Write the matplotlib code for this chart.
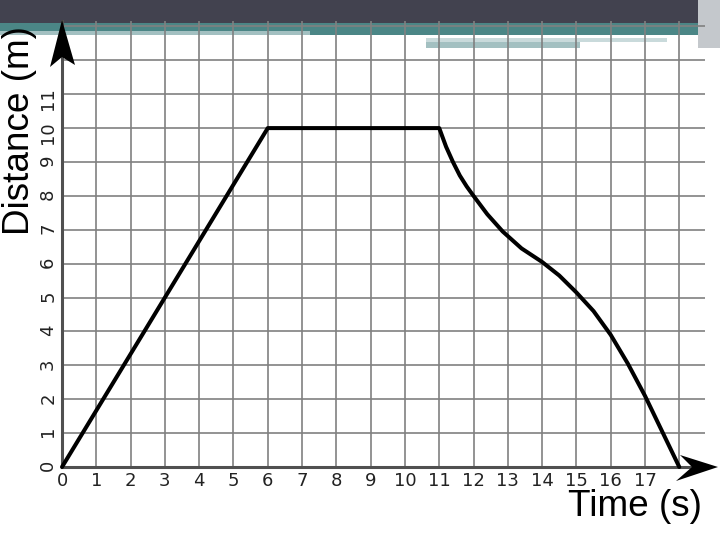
import matplotlib
matplotlib.use("Agg")
import matplotlib.pyplot as plt
from matplotlib.patches import Rectangle, Polygon

plt.rcParams['font.family'] = ['Liberation Sans', 'DejaVu Sans']

# data
time_s = [0, 6, 11, 11.2, 11.4, 11.6, 11.8, 12, 12.4, 12.85, 13.4, 14, 14.5,
          15, 15.5, 16, 16.5, 17, 17.5, 18]
dist_m = [0, 10, 10, 9.45, 9.0, 8.6, 8.28, 8.0, 7.46, 6.95, 6.45, 6.05, 5.65,
          5.15, 4.6, 3.9, 3.05, 2.1, 1.05, 0]
x_ticks = list(range(0, 19))
x_labels = [str(i) for i in range(0, 18)] + ['']
y_ticks = list(range(0, 14))
y_labels = [str(i) for i in range(0, 12)] + ['', '']

W, H = 720, 540
fig = plt.figure(figsize=(7.2, 5.4), dpi=100)

def px_rect(x0, y0, x1, y1, color, z=-2):
    r = Rectangle((x0 / W, 1 - y1 / H), (x1 - x0) / W, (y1 - y0) / H,
                  transform=fig.transFigure, color=color, zorder=z, lw=0)
    fig.add_artist(r)

def px_poly(pts, color, z=5):
    p = Polygon([(x / W, 1 - y / H) for x, y in pts], closed=True,
                transform=fig.transFigure, color=color, zorder=z, lw=0)
    fig.add_artist(p)

# slide decoration
px_rect(0, 23, 700, 35, '#4b8686')
px_rect(0, 31, 310, 35, '#a3c0c1', z=-1.5)
px_rect(426, 38, 667, 42, '#c9dadb')
px_rect(426, 42, 580, 48, '#a3c0c1')
px_rect(698, 0, 720, 48, '#c4c8cc', z=-1.8)
px_rect(0, 0, 698, 23, '#42424f', z=-1.9)

ax = fig.add_axes([62 / W, (H - 467) / H, (705 - 62) / W, (467 - 21) / H])
ax.patch.set_alpha(0)
ax.plot(time_s, dist_m, color='black', lw=2.9, solid_joinstyle='round',
        solid_capstyle='round', zorder=4, clip_on=False)

ax.set_xlim(0, 18.75)
ax.set_ylim(0, 13.16)
ax.set_xticks(x_ticks)
ax.set_xticklabels(x_labels, family='DejaVu Sans')
ax.set_yticks(y_ticks)
ax.set_yticklabels(y_labels, family='DejaVu Sans')
ax.tick_params(axis='both', length=0, labelsize=13, colors='#222222')
ax.tick_params(axis='x', pad=3.5)
ax.tick_params(axis='y', pad=3.5, labelrotation=90)
ax.grid(True, color='#808080', lw=1.2)
ax.set_axisbelow(True)

for s in ['top', 'right']:
    ax.spines[s].set_visible(False)
for s in ['left', 'bottom']:
    ax.spines[s].set_color('#505050')
    ax.spines[s].set_linewidth(2.2)
    ax.spines[s].set_zorder(3)

# arrow heads
px_poly([(62, 20), (50, 67), (62, 57), (75, 65)], 'black')
px_poly([(718, 467), (680, 455), (692, 467), (676, 481)], 'black')

fig.text(20 / W, 1 - 131 / H, 'Distance (m)', rotation=90, fontsize=26.6,
         ha='center', va='center', color='black')
fig.text(635 / W, 1 - 506 / H, 'Time (s)', fontsize=26.6,
         ha='center', va='center', color='black')

fig.savefig('out.png', dpi=100)
